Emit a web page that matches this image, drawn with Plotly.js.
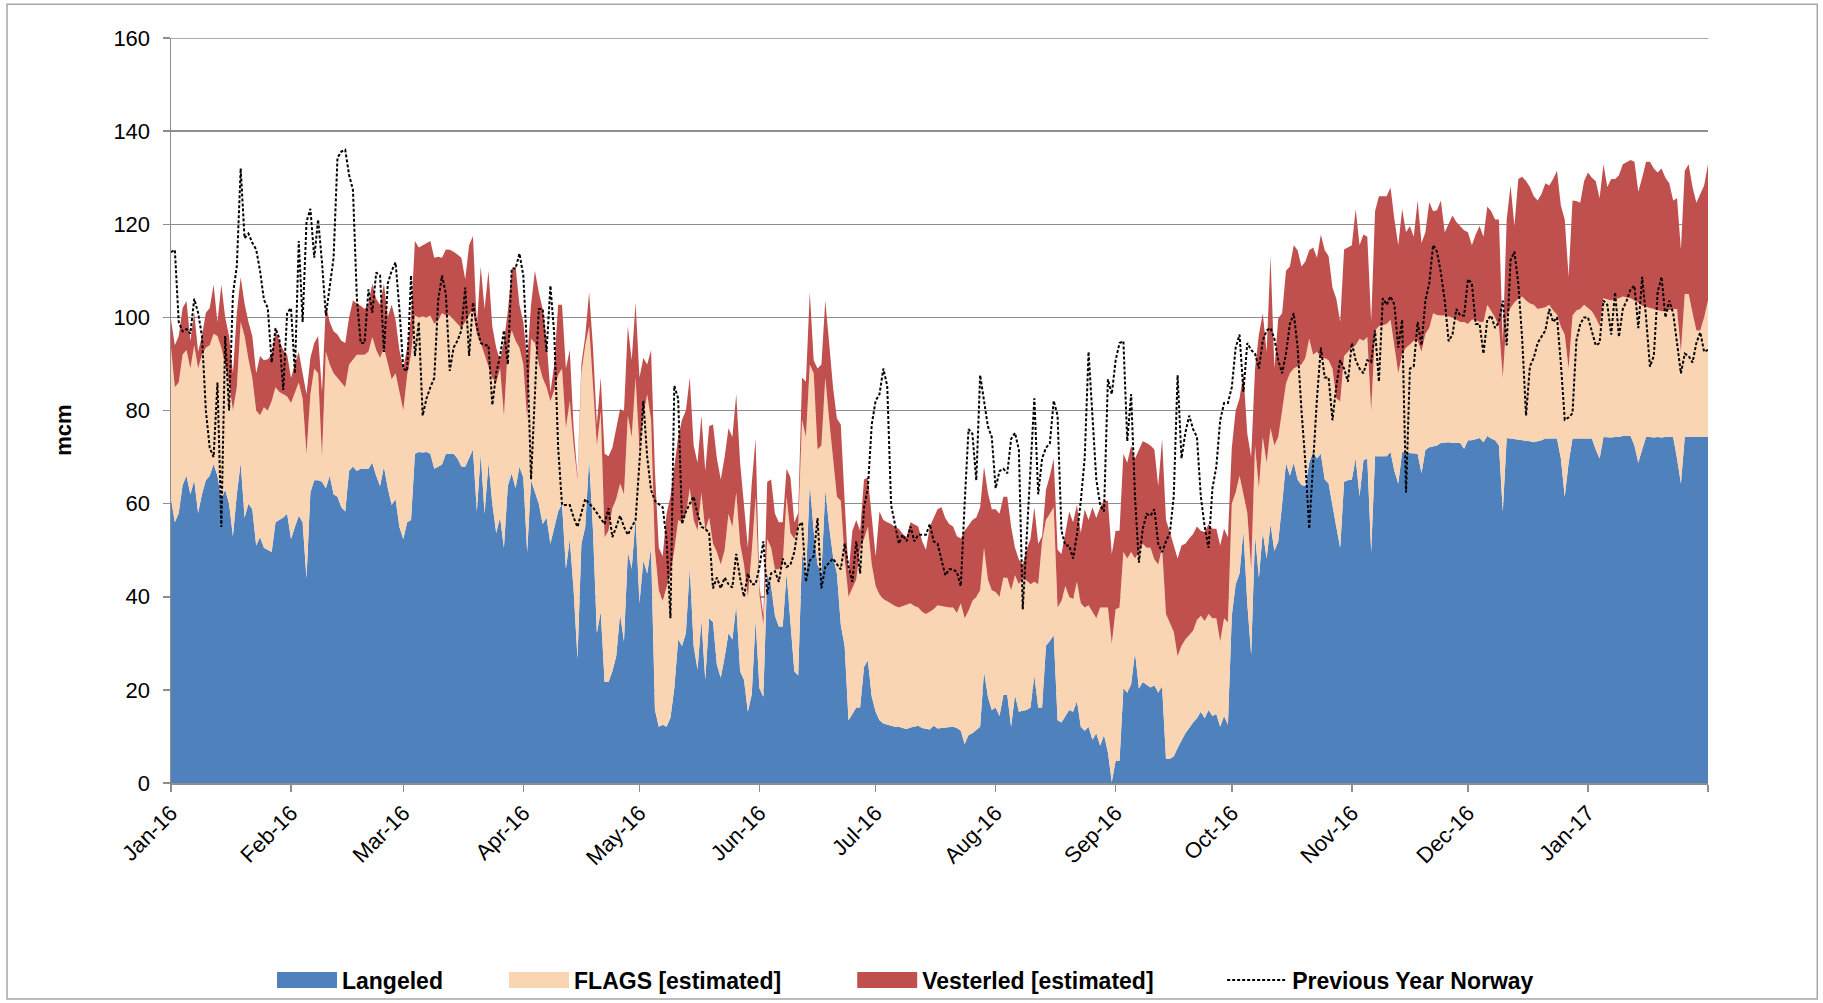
<!DOCTYPE html>
<html>
<head>
<meta charset="utf-8">
<script src="https://cdn.plot.ly/plotly-3.0.1.min.js"></script>
<style>
  html, body { margin: 0; padding: 0; background: #ffffff; }
  #chart { width: 1823px; height: 1003px; }
</style>
</head>
<body>
<div id="chart"></div>
<script>
// Daily series from 1 Jan 2016 (day 0) to 1 Feb 2017 (day 397), mcm
const startDate = '2016-01-01';

const langeled = [
61, 56, 58, 64, 66, 62, 65, 58, 62, 65,
66, 68.5, 66, 61, 63, 60, 53, 62, 68.8, 57,
60, 58.8, 51, 52.8, 50.5, 50, 49.6, 56, 56.5, 57,
57.8, 52.4, 55, 57.4, 56, 44, 62.4, 65, 65, 64.7,
63.3, 66, 62, 61.5, 59.2, 58.3, 67, 68, 67, 67.5,
67.5, 67.5, 68.8, 66, 63.8, 67.9, 63.3, 59.7, 61, 55,
52.4, 56, 56.5, 70.7, 71.1, 71, 71.1, 70.7, 67.5, 68,
68.4, 70.7, 70.7, 70.7, 69.7, 68, 67.9, 69.7, 71.6, 58.3,
70.7, 57.8, 68.8, 60, 53.7, 57, 50.5, 63.8, 66.5, 63.3,
67.9, 65.6, 49.6, 65, 62.4, 60, 55.6, 57, 51.4, 55,
58.3, 60, 46, 52.4, 41.4, 26.7, 51.4, 55, 69.7, 54.2,
32.2, 36.8, 21.7, 21.7, 24, 27.2, 36.3, 30.4, 49.6, 46,
57, 38.6, 47.8, 45, 50.5, 15.7, 12.1, 12.5, 12.1, 14,
20.3, 30.8, 29.4, 32.2, 46.4, 29.4, 24.4, 35, 22.2, 35.4,
34.5, 25.4, 22.6, 27, 32.2, 30.8, 38.2, 24, 22.2, 15.3,
19, 35, 20.3, 18.5, 45, 42.3, 35.9, 33.6, 33.6, 45,
35, 24, 23.1, 49.6, 44.1, 64.3, 54.2, 46.9, 45, 62.9,
55.1, 48.7, 45, 34, 29.4, 13.5, 14.8, 16.2, 16.2, 24.9,
26.3, 18.5, 15.3, 13.5, 12.8, 12.5, 12.3, 12.1, 12.1, 11.8,
11.6, 11.9, 12.1, 12.3, 11.8, 11.6, 11.5, 12.3, 11.7, 11.8,
11.9, 11.9, 12.1, 11.8, 11.2, 8.4, 10.3, 10.7, 11.5, 12.1,
24, 18.5, 15.7, 16.2, 14.4, 18.9, 18.9, 12.1, 18.9, 15.3,
15.5, 15.7, 16.2, 23.1, 16.2, 16.2, 29.5, 30.5, 31.8, 13.5,
13, 14.4, 15.7, 15.3, 17.6, 12.1, 11.2, 12.1, 9.3, 10.7,
8, 10.3, 6.6, 0.2, 4.8, 4.8, 20.3, 19.4, 21.2, 28.1,
20.3, 21.7, 21, 20.5, 21, 19.4, 20.8, 5.2, 5.2, 5.7,
7.5, 9, 10.7, 11.8, 13, 13.9, 15.3, 13.9, 15.7, 14.4,
14.8, 12.1, 14.4, 12.5, 36, 42.7, 45, 54.2, 38.6, 27.6,
53.3, 44.1, 53.9, 48.2, 55.6, 49.8, 51.9, 60, 68.8, 66,
68.8, 65.2, 64, 63.8, 68.8, 71.1, 69.7, 70.7, 65.2, 64.3,
59.2, 55, 50.5, 64.7, 65, 65.2, 69.7, 61.6, 69.3, 69.7,
49.6, 70.2, 70.2, 70.2, 70.2, 71.1, 67, 64.3, 71.1, 70.9,
70.8, 70.7, 70.7, 66.5, 71.5, 72.1, 72.3, 72.5, 73, 73.1,
73.2, 73, 73, 73, 71.8, 73.6, 73.6, 73.8, 74.1, 73.2,
74.5, 74, 73.6, 72.5, 58.3, 74.1, 74, 73.8, 73.7, 73.6,
73.6, 73.4, 73.2, 73.4, 73.6, 74, 74, 74, 74, 69.7,
61.5, 68.8, 74, 74, 74, 74, 74, 74, 71.6, 69.7,
74.3, 74.2, 74.2, 74.3, 74.3, 74.5, 74.5, 74.5, 72.5, 68.8,
71.6, 74.3, 74.3, 74.2, 74.3, 74.2, 74.3, 74.3, 74.3, 69.7,
64.3, 74.3, 74.3, 74.4, 74.3, 74.3, 74.3, 74.3
];

const flags = [
32.5, 29, 28, 28, 27, 27, 29, 31, 30, 28.5,
28, 28, 30, 32.5, 27, 26, 27, 23, 30.2, 39,
31, 28.2, 29, 26.2, 30.2, 30, 32.4, 29, 27.5, 26.5,
25.2, 29.2, 29, 28.6, 26.6, 26.7, 21.1, 24, 23, 5.3,
29.3, 23.9, 26, 25.5, 26.8, 26.7, 22.9, 23, 25, 24.5,
24.5, 25.1, 27, 27, 27.5, 25.6, 26.7, 27, 27, 29,
27.6, 31.6, 35.5, 29.7, 28.9, 29.2, 28.9, 29.7, 31.1, 31.5,
32.5, 29.7, 29.7, 28.8, 28.9, 29.7, 31.1, 30.7, 30.2, 38,
23.8, 34.2, 20.6, 27, 32.3, 32, 28.4, 29.7, 30.7, 31.7,
25.6, 24.3, 28.4, 30.4, 32.1, 30, 31.4, 28, 30.6, 29.4,
29.3, 29, 30.2, 29.7, 31.1, 38.5, 36.6, 39, 28.4, 32,
40.3, 43, 31.1, 32.5, 35, 33.8, 28, 31.6, 29.3, 28.3,
30.1, 33, 31.1, 38.5, 27.5, 34.3, 29.3, 26.6, 30.2, 31,
29.7, 25.7, 26.6, 25.6, 16.9, 27.1, 29.8, 27.4, 32, 21.6,
16.9, 24.2, 24.3, 23, 25.6, 24.2, 24.2, 27.4, 24.7, 24.7,
30.6, 26.5, 20.2, 15.5, 7.4, 8.2, 10, 12.3, 13.4, 16.5,
18.7, 28.4, 31.9, 28.4, 30.2, 25.6, 33.8, 24.7, 27.5, 24.2,
22.9, 21.3, 16.5, 26.6, 18.8, 26.5, 27, 27.5, 34.3, 27.5,
28.8, 28.4, 27, 27, 26.7, 26.5, 26.3, 25.9, 25.6, 26.2,
26.6, 26.7, 25.9, 25.4, 25, 24.7, 25.3, 25, 26.5, 26.2,
26, 25.8, 25.6, 24.7, 27.4, 27, 26.7, 28.4, 28.5, 29.3,
26.5, 25.2, 25.7, 24.8, 25.6, 25.2, 25.2, 29.3, 25.7, 27.4,
28.6, 27.8, 26.5, 20.1, 26.5, 35.7, 27, 27.5, 27.4, 24.2,
26.1, 27.9, 24.3, 24.2, 25.6, 26.5, 26.5, 26.1, 27.5, 24.7,
29.7, 27.4, 31.1, 29.7, 32.5, 32.9, 29.3, 28.8, 28.4, 20.1,
29.3, 29.7, 29.5, 30, 27, 27.5, 29.7, 31.1, 29.3, 26.8,
19.7, 20.5, 20.1, 20, 19.7, 21.1, 20.6, 20.9, 20.6, 21,
20.6, 18.3, 21, 22, 24, 19.7, 21, 7.8, 19.4, 18.3,
19.2, 19.2, 20.4, 20.6, 20.6, 22.7, 22.4, 20, 17, 22,
20.2, 24.3, 25.9, 27.5, 26.6, 20.9, 22.9, 20.6, 26.1, 26.5,
29.8, 27.6, 31.5, 27, 27.5, 28.3, 24.3, 33.8, 25.7, 26.1,
30.2, 27, 27.9, 28.2, 28.4, 28.4, 27, 23.7, 21.1, 22.6,
23.4, 24.3, 24.3, 26.1, 25, 25.6, 28.6, 28, 27.4, 27.3,
27, 27, 26.5, 26, 27.2, 25, 25.9, 25.7, 24.9, 25.8,
28.2, 27.3, 26.4, 25.6, 28.8, 26.3, 28, 29.4, 30.3, 30.9,
30, 29.6, 29.5, 28.4, 28.4, 28.2, 28.7, 27.5, 26.6, 28.3,
34.8, 20.2, 26.4, 27.5, 27.8, 28.7, 28, 27.3, 28.4, 28.4,
29.8, 29.6, 29.4, 29.7, 29.8, 30, 29.8, 29.6, 31.1, 34.4,
30.9, 27.9, 27.7, 27.6, 27.2, 27.1, 27, 27.2, 27.5, 32.1,
28.3, 30.7, 30.7, 26.6, 22.9, 22.9, 25.7, 29.3
];

const vesterled = [
6, 9, 10, 10, 10.5, 6, 7, 3.6, 4, 7.5,
8, 10.5, 3, 13.5, 10, 10, 8, 16, 9.6, 7,
8, 9, 8, 12.7, 10.1, 11, 10, 12, 11, 9.5,
9, 5.4, 6, 6.6, 5.4, 12.8, 7.8, 5.5, 8, 14,
10.1, 9.1, 9, 9.3, 9, 9.5, 10.1, 12.6, 11, 10.5,
9.8, 10.4, 11.5, 11, 11.4, 13.8, 10.2, 16, 11.5, 9,
9, 5.9, 8, 16, 15, 15.3, 16, 16, 14.2, 13.5,
11.9, 14.2, 14.1, 14.6, 14.9, 15.1, 9.2, 15.1, 15.7, 1.8,
16.4, 9.8, 20.6, 11, 7.5, 1.8, 16.1, 7.8, 12.8, 15.9,
9.2, 9.1, 12.8, 7.3, 15.5, 15.4, 14.8, 10, 2, 5.5,
15.1, 13.7, 12.8, 10.9, 3.7, 0.8, 2, 2, 7.3, 7.3,
4.5, 7.3, 17.9, 16, 13, 15, 16, 17.8, 19.2, 16.5,
16.1, 15.5, 12.4, 6.4, 15, 17, 9.1, 9.6, 15.5, 16.5,
18, 17.8, 22, 22.2, 23.8, 16, 14.6, 16.5, 12.8, 19.6,
25.6, 20.1, 18.3, 20, 18.4, 19.3, 21.1, 17.4, 12.8, 10.5,
14.7, 12.4, 1.8, 2, 12.3, 14.7, 11.9, 10.1, 9, 6,
11.9, 3.6, 3, 9.1, 11.9, 15.5, 2.8, 17.4, 17.4, 16.5,
16.5, 15, 16.8, 16.4, 12.4, 5, 12.4, 12.8, 3.7, 12.8,
10.5, 10, 6.4, 17.8, 17, 17, 17, 17, 16.9, 15.5,
14.6, 17.4, 17.5, 17.4, 15.2, 13.8, 18.3, 19.6, 20.6, 21.2,
19, 17.9, 17.4, 16.5, 13.9, 18.8, 18.5, 17.4, 17, 17.8,
17.4, 18.7, 17.4, 17.8, 17.8, 17.4, 17.4, 13.7, 5.9, 5.3,
2.8, 6.6, 9.7, 16, 8.7, 1.1, 6.5, 8, 10.5, 12.4,
10.1, 11.9, 18.3, 16.5, 16.5, 15.1, 21.1, 18.3, 22.4, 21.5,
21.5, 22.9, 22.9, 19.3, 16.9, 16.5, 21.1, 20.6, 22.9, 21.5,
22, 22, 22.5, 22, 23.6, 16.9, 23.4, 20.2, 19.4, 18.5,
21, 21.5, 20.6, 20.7, 20.8, 20.1, 18.3, 19.1, 19.3, 19.2,
19.2, 20.6, 19.2, 18.3, 12, 17.6, 16.6, 26, 17, 24.1,
16.5, 33, 26.6, 23.8, 37, 16.5, 25.5, 20.9, 24.2, 22.9,
26.5, 24.9, 21, 20.7, 19, 23, 20.2, 26.5, 23.1, 22.4,
17.4, 21.4, 17, 22.9, 22.5, 22, 29.3, 20.1, 22.8, 21.5,
19.2, 25.6, 27.9, 27.6, 27.4, 28.4, 27, 27.5, 31.1, 24.8,
25.4, 22.3, 30.1, 23.4, 21.8, 27, 21.9, 22.5, 24.7, 17.9,
19.8, 21.9, 21, 20.5, 19.7, 19.7, 16, 18.3, 20.6, 18.3,
21.1, 21.5, 21, 22.9, 7.6, 20.6, 26.3, 16.4, 25.7, 25.7,
25.7, 25, 23.3, 23.3, 24.5, 26.6, 25.6, 28.2, 30.9, 26,
24.7, 19.7, 24.7, 23.5, 22.8, 26.6, 29.1, 28.7, 29.3, 27.5,
28.8, 24.2, 26.1, 25.7, 26.4, 28.4, 29, 29.7, 29.8, 23.8,
27.5, 31.2, 31.4, 30.2, 29.6, 30.7, 28.7, 27.3, 23.3, 23.8,
22, 26.5, 27.9, 27, 27.4, 29.3, 28.3, 29.3
];

const prevYearNorway = [
114, 114.5, 99, 97, 97.5, 96.5, 104, 101, 96, 80,
72, 70, 86, 55, 96, 80, 105, 111, 132, 117,
118, 116, 114.6, 110, 103.8, 102, 90.3, 97.7, 95.4, 84.4,
101, 102, 88, 116.4, 99, 120.5, 123.3, 112.8, 121, 111.8,
100.4, 107, 112.8, 134.3, 135.6, 136, 130.6, 127.4, 104.3, 94.5,
94.5, 106, 101, 109.6, 109, 92.6, 107.3, 110, 111.8, 101.8,
89, 88.5, 109, 91.7, 99, 78.9, 82.6, 85, 87, 103.6,
109, 105, 88.5, 93.5, 95, 97.2, 106.4, 91.7, 103.2, 98,
94.5, 94, 94, 81.2, 88, 91.7, 97.2, 89.9, 110.5, 110.5,
113.7, 109, 92.6, 65.2, 82.6, 101.8, 101.8, 92.6, 106.8, 96.3,
72, 59.7, 59.7, 59.7, 57, 55, 58, 61, 60, 59.2,
58, 56.9, 55.6, 59, 52.8, 55, 57.4, 55, 53.3, 55,
56.5, 68.8, 82.1, 70, 62.9, 60.6, 60, 59.2, 52.4, 35.4,
85.3, 82.6, 55.6, 58.3, 60, 61.5, 57.8, 55, 54.6, 53.7,
41.8, 44.1, 41.8, 44.1, 42.7, 42, 49.2, 44, 40, 45,
42.7, 42.7, 46.4, 51.9, 40.5, 45, 45.5, 43.2, 48.2, 46.4,
46.9, 49.6, 55.1, 56, 43.2, 47.8, 48.7, 56.9, 41.8, 46.4,
47.3, 48.2, 47, 45.9, 51.4, 46.4, 43.2, 51.9, 45, 59.2,
63.3, 77, 82.1, 83.5, 89, 85.3, 59.7, 55.1, 51.4, 53.3,
51.9, 55.1, 51.9, 53.3, 53.3, 53.3, 55.6, 51.9, 51.4, 48,
44.6, 45.9, 45.9, 45.3, 42.3, 60.1, 76, 75, 65, 87.6,
81.6, 76.6, 74.3, 63.3, 67, 67.5, 66.5, 73.9, 75.2, 71.6,
37.3, 51.4, 67.5, 82.6, 62, 69.7, 72, 72.9, 82.1, 78.9,
54.2, 51, 51, 48.2, 53.3, 60.6, 69.7, 92.6, 78, 65.2,
59.7, 58.3, 86.7, 83.5, 90.8, 94.5, 94.9, 73.4, 83.5, 61.5,
47.3, 54.6, 57.8, 57.4, 58.8, 51.4, 49.6, 51.9, 53.7, 61.5,
87.6, 69.7, 75.2, 78.9, 76, 74.3, 61.5, 55, 50.5, 63.3,
67.9, 77.9, 81.6, 81.6, 85, 93.5, 96.3, 84, 94.5, 93,
92.2, 89, 95, 97.2, 97.7, 95.4, 90.8, 88, 92.2, 98.6,
100.9, 93.5, 80, 68.8, 54.6, 70, 82.6, 93.5, 87.1, 87.1,
77.9, 85.3, 90.8, 89, 86.2, 94.5, 90.8, 89, 88, 90.8,
90.4, 97.2, 86.2, 104.1, 102.7, 104.5, 102.7, 93.5, 99.5, 62.4,
89, 89.5, 99, 94, 103.6, 107.3, 115.5, 114.1, 109.6, 103.6,
94.9, 96.3, 101.8, 100.4, 100.4, 108.2, 107.3, 98.6, 98.6, 92.2,
99.5, 100.4, 97.7, 99, 103.6, 94, 112.3, 114.1, 107.3, 95.4,
78.9, 89.5, 91.3, 94.5, 96, 97.2, 101.8, 99, 100, 90,
78, 78.5, 79.4, 95, 98.6, 100, 100, 97, 94, 94.5,
103.6, 102.7, 96.3, 105.4, 95.8, 101.8, 103.6, 106, 106.8, 97.7,
108.7, 100, 89.4, 91.7, 105.4, 108.7, 100, 103.6, 100.9, 94.5,
88, 92.2, 91.7, 90.3, 94.5, 96.8, 92.6, 93
];

const monthTickDates = ['2016-01-01','2016-02-01','2016-03-01','2016-04-01','2016-05-01','2016-06-01',
  '2016-07-01','2016-08-01','2016-09-01','2016-10-01','2016-11-01','2016-12-01','2017-01-01','2017-02-01'];
const monthTickLabels = ['Jan-16','Feb-16','Mar-16','Apr-16','May-16','Jun-16','Jul-16','Aug-16',
  'Sep-16','Oct-16','Nov-16','Dec-16','Jan-17',''];
const seriesNames = ['Langeled', 'FLAGS [estimated]', 'Vesterled [estimated]', 'Previous Year Norway'];
const yAxisTitle = 'mcm';
const yMax = 160;

// calendar dates for each daily value
const t0 = Date.parse(startDate + 'T00:00:00Z');
const dates = langeled.map((_, i) => new Date(t0 + i * 86400000).toISOString().slice(0, 10));

const FONT = 'Liberation Sans, Arial, sans-serif';
const C_LANG = '#4F81BD', C_FLAGS = '#FAD5B4', C_VEST = '#C0504D';
const GRID = '#8e8e8e';

const traces = [
  { type: 'scatter', mode: 'lines', x: dates, y: langeled, name: seriesNames[0], legend: 'legend',
    stackgroup: 'one', line: { width: 0, color: C_LANG }, fillcolor: C_LANG },
  { type: 'scatter', mode: 'lines', x: dates, y: flags, name: seriesNames[1], legend: 'legend2',
    stackgroup: 'one', line: { width: 0, color: C_FLAGS }, fillcolor: C_FLAGS },
  { type: 'scatter', mode: 'lines', x: dates, y: vesterled, name: seriesNames[2], legend: 'legend3',
    stackgroup: 'one', line: { width: 0, color: C_VEST }, fillcolor: C_VEST },
  { type: 'scatter', mode: 'lines', x: dates, y: prevYearNorway, name: seriesNames[3], legend: 'legend4',
    line: { width: 2, color: '#000000', dash: '3px,2px' } }
];

function legendAt(x) {
  return {
    orientation: 'h', x: x, xanchor: 'left', y: -0.2644, yanchor: 'middle',
    bgcolor: 'rgba(0,0,0,0)', borderwidth: 0,
    font: { family: FONT, size: 23, weight: 'bold', color: '#000000' },
    itemwidth: 60
  };
}

const layout = {
  width: 1823, height: 1003,
  margin: { l: 171, r: 115, t: 38, b: 220, autoexpand: false },
  paper_bgcolor: '#ffffff', plot_bgcolor: '#ffffff',
  font: { family: FONT, color: '#000000', size: 22 },
  showlegend: true,
  legend: legendAt(0.0657),
  legend2: legendAt(0.2167),
  legend3: legendAt(0.4432),
  legend4: legendAt(0.6839),
  xaxis: {
    type: 'date', range: ['2016-01-01', '2017-02-01'],
    tickvals: monthTickDates, ticktext: monthTickLabels, tickangle: -45,
    tickfont: { family: FONT, size: 22, color: '#000000' },
    ticks: 'outside', ticklen: 7, tickcolor: GRID, tickwidth: 1.5,
    showline: true, linecolor: GRID, linewidth: 1.5,
    showgrid: false, zeroline: false, fixedrange: true, automargin: false
  },
  yaxis: {
    range: [0, yMax], dtick: 20,
    tickfont: { family: FONT, size: 22, color: '#000000' },
    ticks: 'outside', ticklen: 7, tickcolor: GRID, tickwidth: 1.5,
    ticklabelstandoff: 8,
    showline: true, linecolor: GRID, linewidth: 1.5,
    showgrid: true, gridcolor: GRID, gridwidth: 1.5,
    zeroline: false, fixedrange: true, automargin: false
  },
  annotations: [
    { text: yAxisTitle, xref: 'paper', yref: 'paper', x: -0.0697, y: 0.474,
      xanchor: 'center', yanchor: 'middle', textangle: -90, showarrow: false,
      font: { family: FONT, size: 22, weight: 'bold', color: '#000000' } }
  ],
  shapes: [
    // outer chart frame
    { type: 'rect', xref: 'paper', yref: 'paper',
      x0: -0.1067, x1: 1.0711, y0: -0.2898, y1: 1.0452,
      line: { color: '#a6a6a6', width: 1.5 }, fillcolor: 'rgba(0,0,0,0)', layer: 'below' },
    // top gridline at the axis maximum
    { type: 'line', xref: 'paper', yref: 'y', x0: 0, x1: 1, y0: yMax, y1: yMax,
      line: { color: GRID, width: 1.5 }, layer: 'below' }
  ],
  hovermode: false
};

Plotly.newPlot('chart', traces, layout, { displayModeBar: false, staticPlot: true }).then(() => {
  // widen the area-legend swatches to solid blocks like the original
  document.querySelectorAll('.legendfill path').forEach(p => {
    const d = p.getAttribute('d');
    if (d && d.length) p.setAttribute('d', 'M5,-8h60v16h-60z');
  });
});
</script>
</body>
</html>
